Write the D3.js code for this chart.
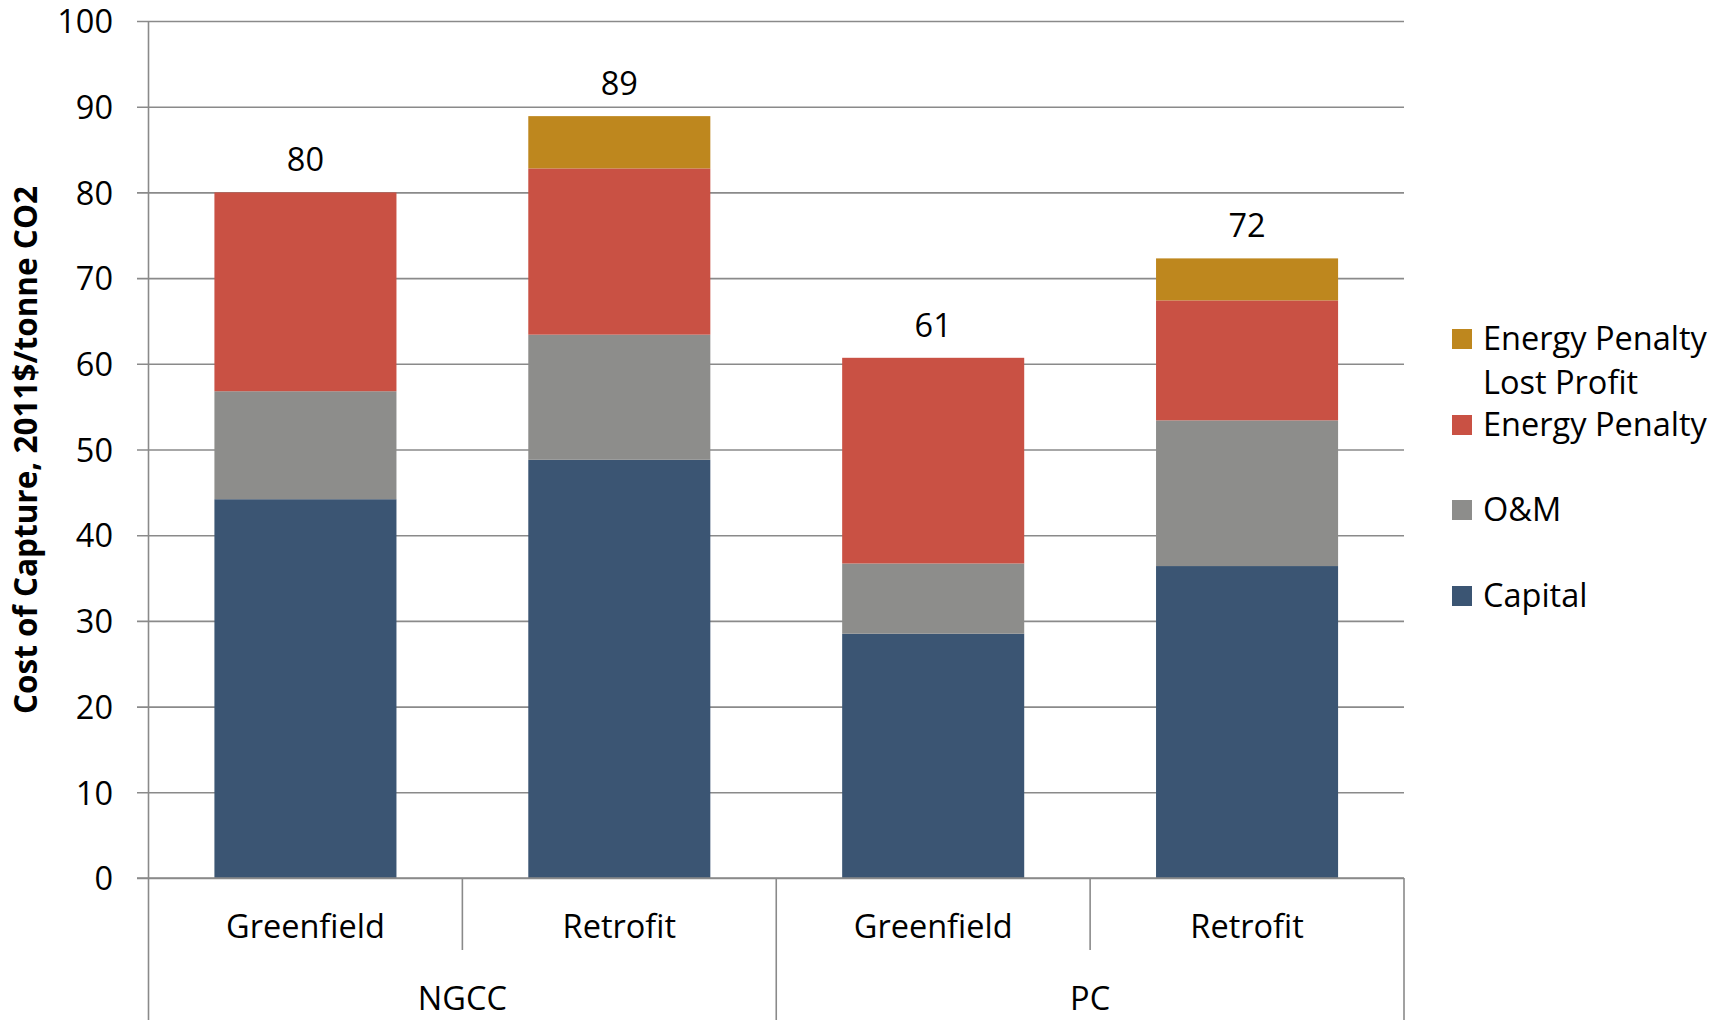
<!DOCTYPE html>
<html>
<head>
<meta charset="utf-8">
<script src="https://cdn.jsdelivr.net/npm/d3@7"></script>
<style>
  html, body { margin: 0; padding: 0; background: #ffffff; }
  svg { display: block; }
  text { font-family: "Open Sans", "Noto Sans", sans-serif; fill: #000; }
</style>
</head>
<body>
<svg id="chart" width="1725" height="1020"></svg>
<script>
// Cost of CO2 capture by plant type and build type (2011$/tonne CO2)
const plants = ["NGCC", "NGCC", "PC", "PC"];
const builds = ["Greenfield", "Retrofit", "Greenfield", "Retrofit"];
const capital = [44.2, 48.8, 28.5, 36.4];
const om = [12.6, 14.6, 8.2, 17.0];
const energyPenalty = [23.2, 19.4, 24.0, 14.0];
const lostProfit = [0, 6.1, 0, 4.9];

const seriesNames = ["Capital", "O&M", "Energy Penalty", "Energy Penalty Lost Profit"];
const seriesColors = ["#3b5573", "#8d8d8b", "#c95144", "#be871e"];
const yTicks = [0, 10, 20, 30, 40, 50, 60, 70, 80, 90, 100];
const yTitle = "Cost of Capture, 2011$/tonne CO2";

const W = 1725, H = 1020;
const plotLeft = 148.5, plotRight = 1404, plotTop = 21, plotBottom = 878;
const fontSize = 32.5;

const svg = d3.select("#chart");

const keys = builds.map((b, i) => i);
const rows = keys.map(i => ({
  i,
  "Capital": capital[i],
  "O&M": om[i],
  "Energy Penalty": energyPenalty[i],
  "Energy Penalty Lost Profit": lostProfit[i]
}));
const totals = keys.map(i => capital[i] + om[i] + energyPenalty[i] + lostProfit[i]);

const x = d3.scaleBand().domain(keys).range([plotLeft, plotRight]).paddingInner(0.42).paddingOuter(0.21);
const y = d3.scaleLinear().domain([0, 100]).range([plotBottom, plotTop]);
const color = d3.scaleOrdinal().domain(seriesNames).range(seriesColors);

// Gridlines and value axis
const tickStart = 137;
const yAxis = d3.axisLeft(y)
  .tickValues(yTicks)
  .tickSize(-(plotRight - tickStart))
  .tickPadding(24)
  .tickFormat(d3.format("d"));

const yAxisG = svg.append("g")
  .attr("transform", `translate(${tickStart},0)`)
  .call(yAxis);
yAxisG.select(".domain").remove();
yAxisG.selectAll(".tick line").attr("stroke", "#8a8a8a").attr("stroke-width", 1.6);
yAxisG.selectAll(".tick text")
  .attr("font-size", fontSize)
  .attr("font-family", "Open Sans")
  .attr("fill", "#000")
  .attr("dy", "0.36em");

// Stacked bars
const stack = d3.stack().keys(seriesNames);
const layers = stack(rows);

svg.append("g")
  .selectAll("g")
  .data(layers)
  .join("g")
  .attr("fill", d => color(d.key))
  .selectAll("rect")
  .data(d => d.filter(s => s[1] - s[0] > 0))
  .join("rect")
  .attr("x", d => x(d.data.i))
  .attr("width", x.bandwidth())
  .attr("y", d => y(d[1]))
  .attr("height", d => y(d[0]) - y(d[1]));

// Total labels above each bar
svg.append("g")
  .selectAll("text")
  .data(keys)
  .join("text")
  .attr("x", i => x(i) + x.bandwidth() / 2)
  .attr("y", i => y(totals[i]) - 21)
  .attr("text-anchor", "middle")
  .attr("font-size", fontSize)
  .text(i => Math.round(totals[i]));

// Axis lines
const axisColor = "#8a8a8a";
const axes = svg.append("g").attr("stroke", axisColor).attr("stroke-width", 1.6);
axes.append("line").attr("x1", plotLeft).attr("x2", plotLeft).attr("y1", plotTop).attr("y2", H);
axes.append("line").attr("x1", tickStart).attr("x2", plotRight).attr("y1", plotBottom).attr("y2", plotBottom);

// Category dividers: short between build types, full between plant types
const step = x.step();
const bounds = d3.range(1, keys.length + 1).map(k => plotLeft + k * step);
axes.selectAll("line.div")
  .data(bounds)
  .join("line")
  .attr("class", "div")
  .attr("x1", d => d).attr("x2", d => d)
  .attr("y1", plotBottom)
  .attr("y2", (d, k) => (k === keys.length - 1 || plants[k] !== plants[k + 1]) ? H : 950);

// Build type labels
svg.append("g")
  .selectAll("text")
  .data(keys)
  .join("text")
  .attr("x", i => x(i) + x.bandwidth() / 2)
  .attr("y", 938)
  .attr("text-anchor", "middle")
  .attr("font-size", fontSize)
  .text(i => builds[i]);

// Plant type labels, centred under each group
const groups = Array.from(d3.group(keys, i => plants[i]), ([name, idx]) => ({
  name,
  cx: (x(idx[0]) + x(idx[idx.length - 1]) + x.bandwidth()) / 2
}));
svg.append("g")
  .selectAll("text")
  .data(groups)
  .join("text")
  .attr("x", d => d.cx)
  .attr("y", 1010)
  .attr("text-anchor", "middle")
  .attr("font-size", fontSize)
  .text(d => d.name);

// Value axis title
svg.append("text")
  .attr("transform", "translate(37,450) rotate(-90)")
  .attr("text-anchor", "middle")
  .attr("font-size", 31.5)
  .attr("font-weight", "bold")
  .text(yTitle);

// Legend, top series first
const legendY = [339, 425, 510, 596];
const legend = svg.append("g");
const legendItems = legend.selectAll("g")
  .data(seriesNames.slice().reverse())
  .join("g")
  .attr("transform", (d, k) => `translate(1452,${legendY[k]})`);
legendItems.append("rect")
  .attr("x", 0).attr("y", -10)
  .attr("width", 20).attr("height", 20)
  .attr("fill", d => color(d));
legendItems.append("text")
  .attr("x", 31)
  .attr("y", 11)
  .attr("font-size", fontSize)
  .each(function(d) {
    // wrap long names onto extra lines
    const t = d3.select(this);
    const words = d.split(" ");
    let line = [];
    let tspan = t.append("tspan").attr("x", 31).attr("dy", 0);
    words.forEach(w => {
      line.push(w);
      tspan.text(line.join(" "));
      if (tspan.node().getComputedTextLength() > 235 && line.length > 1) {
        line.pop();
        tspan.text(line.join(" "));
        line = [w];
        tspan = t.append("tspan").attr("x", 31).attr("dy", 44).text(w);
      }
    });
  });
</script>
</body>
</html>
